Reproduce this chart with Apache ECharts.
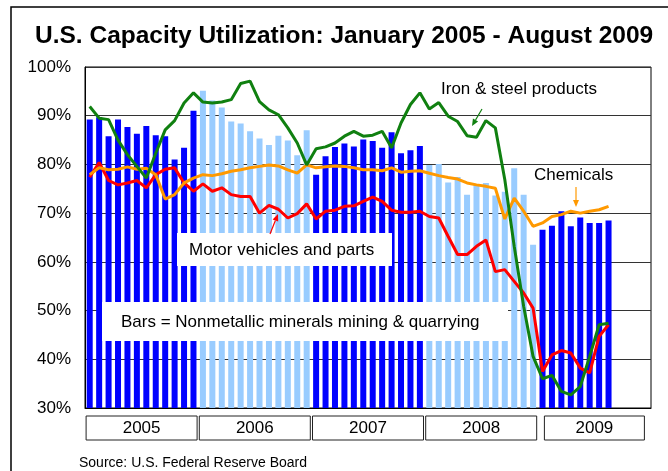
<!DOCTYPE html>
<html>
<head>
<meta charset="utf-8">
<script src="https://cdn.jsdelivr.net/npm/echarts@6/dist/echarts.min.js"></script>
<style>
  html, body { margin: 0; padding: 0; background: #fff; }
  #chart { width: 668px; height: 471px; }
</style>
</head>
<body>
<div id="chart"></div>
<script>
// Years shown on the time axis and month names used to build the 60 monthly slots
const years = ['2005', '2006', '2007', '2008', '2009'];
const monthNames = ['Jan', 'Feb', 'Mar', 'Apr', 'May', 'Jun', 'Jul', 'Aug', 'Sep', 'Oct', 'Nov', 'Dec'];

// Y-axis tick range (percent)
const yTicks = { min: 30, max: 100, step: 10 };

// Capacity utilization, % — Jan 2005 through Aug 2009
const nonmetallicMinerals = [
  89.2, 89.7, 85.8, 89.2, 87.7, 86.3, 87.9, 86.0, 85.8, 81.0, 83.4, 91.0,
  95.1, 93.1, 91.7, 88.8, 88.4, 86.8, 85.3, 84.0, 85.9, 84.9, 81.9, 87.0,
  77.9, 81.7, 83.6, 84.3, 83.7, 85.1, 84.8, 83.4, 86.6, 82.3, 82.9, 83.8,
  79.9, 80.1, 76.3, 77.4, 73.8, 76.0, 76.2, 73.6, 74.4, 79.2, 73.8, 63.5,
  66.6, 67.4, 70.4, 67.3, 69.1, 68.0, 68.0, 68.5
];
const ironSteel = [
  91.9, 89.5, 89.2, 85.0, 82.0, 79.6, 77.2, 82.3, 87.1, 89.0, 92.6, 94.7,
  92.8, 92.6, 92.8, 93.3, 96.6, 97.1, 92.9, 91.2, 90.2, 87.5, 84.4, 79.9,
  83.2, 83.6, 84.4, 85.8, 86.8, 85.8, 86.0, 86.8, 83.4, 88.5, 92.3, 94.7,
  91.4, 92.7, 89.9, 88.8, 85.9, 85.6, 89.0, 87.5, 76.9, 63.2, 50.9, 40.6,
  36.0, 36.7, 33.4, 32.7, 34.4, 40.6, 47.1, 47.4
];
const motorVehicles = [
  77.4, 80.4, 76.7, 75.8, 76.2, 76.7, 75.2, 77.9, 79.0, 79.3, 76.2, 74.5,
  76.0, 74.5, 75.2, 73.8, 73.4, 73.4, 70.0, 71.6, 70.8, 69.0, 69.9, 71.9,
  68.8, 70.4, 70.6, 71.4, 71.5, 72.4, 73.3, 72.4, 70.6, 70.2, 70.2, 70.4,
  69.3, 69.0, 65.2, 61.5, 61.5, 63.2, 64.5, 58.0, 58.4, 56.0, 53.6, 50.5,
  37.5, 40.9, 41.8, 41.3, 38.2, 37.2, 44.7, 47.1
];
const chemicals = [
  77.9, 79.3, 78.9, 79.0, 79.5, 79.0, 79.2, 77.9, 72.9, 73.8, 76.2, 77.2,
  77.9, 77.7, 78.1, 78.6, 78.9, 79.3, 79.6, 79.9, 79.7, 78.9, 78.2, 79.9,
  79.3, 79.5, 79.7, 79.6, 79.3, 78.9, 78.9, 78.7, 79.3, 78.4, 78.6, 78.7,
  78.2, 77.7, 77.3, 77.0, 76.2, 75.8, 75.5, 75.1, 68.8, 73.1, 70.4, 67.3,
  68.0, 69.3, 69.7, 70.4, 70.0, 70.4, 70.7, 71.4
];

const months = [];
years.forEach(y => monthNames.forEach(m => months.push(m + ' ' + y)));

const FONT = "'Liberation Sans', Arial, Helvetica, sans-serif";
const chart = echarts.init(document.getElementById('chart'), null, { renderer: 'canvas' });

// Thin annotation arrow: shaft plus a filled head at the (x2, y2) end
function arrow(x1, y1, x2, y2, color) {
  const dx = x2 - x1, dy = y2 - y1, len = Math.hypot(dx, dy);
  const ux = dx / len, uy = dy / len, hl = 7, hw = 3;
  const bx = x2 - ux * hl, by = y2 - uy * hl;
  return [
    { type: 'line', z: 120, shape: { x1: x1, y1: y1, x2: bx, y2: by },
      style: { stroke: color, lineWidth: 1.2 } },
    { type: 'polygon', z: 120,
      shape: { points: [[x2, y2], [bx - uy * hw, by + ux * hw], [bx + uy * hw, by - ux * hw]] },
      style: { fill: color } }
  ];
}

function label(text, x, y, size) {
  return {
    type: 'text', z: 110, x: x, y: y,
    style: { text: text, font: (size || 17) + 'px ' + FONT, fill: '#000', textVerticalAlign: 'middle' }
  };
}

const option = {
  animation: false,
  backgroundColor: '#fff',
  title: {
    text: 'U.S. Capacity Utilization: January 2005 - August 2009',
    left: 30, top: 19,
    textStyle: { fontFamily: FONT, fontSize: 24.5, fontWeight: 'bold', color: '#000' }
  },
  grid: {
    left: 85, right: 17, top: 67, bottom: 63,
    show: true, borderColor: '#000', borderWidth: 1, backgroundColor: 'transparent'
  },
  xAxis: [
    {
      type: 'category', data: months, boundaryGap: true,
      axisLine: { show: true, lineStyle: { color: '#000' } },
      axisTick: { show: false }, axisLabel: { show: false }, splitLine: { show: false }
    },
    {
      type: 'category', data: years, position: 'bottom', boundaryGap: true,
      axisLine: { show: false }, axisTick: { show: false }, splitLine: { show: false },
      axisLabel: {
        margin: 8,
        formatter: (v, i) => (i === years.length - 1 ? '{s|' + v + '}' : '{w|' + v + '}'),
        rich: {
          w: { width: 111, height: 24, lineHeight: 24, align: 'center', fontSize: 17,
               fontFamily: FONT, color: '#000', borderColor: '#222', borderWidth: 1 },
          s: { width: 100, height: 24, lineHeight: 24, align: 'center', fontSize: 17,
               fontFamily: FONT, color: '#000', borderColor: '#222', borderWidth: 1 }
        }
      }
    }
  ],
  yAxis: {
    type: 'value', min: yTicks.min, max: yTicks.max, interval: yTicks.step,
    axisLine: { show: true, lineStyle: { color: '#000' } },
    axisTick: { show: false },
    axisLabel: { formatter: '{value}%', fontSize: 17, fontFamily: FONT, color: '#000', margin: 14 },
    splitLine: { show: true, lineStyle: { color: '#333', width: 1 } }
  },
  series: [
    {
      name: 'Nonmetallic minerals mining & quarrying', type: 'bar',
      data: nonmetallicMinerals, barWidth: 6,
      itemStyle: {
        color: p => (Math.floor(p.dataIndex / 12) % 2 === 0 ? '#0000FF' : '#99CCFF')
      }
    },
    {
      name: 'Motor vehicles and parts', type: 'line', data: motorVehicles,
      symbol: 'none', lineStyle: { color: '#FF0000', width: 3 }
    },
    {
      name: 'Chemicals', type: 'line', data: chemicals,
      symbol: 'none', lineStyle: { color: '#FF9900', width: 3 }
    },
    {
      name: 'Iron & steel products', type: 'line', data: ironSteel,
      symbol: 'none', lineStyle: { color: '#108010', width: 3 }
    }
  ],
  graphic: [
    // page frame
    { type: 'rect', z: 1, shape: { x: 11, y: 7, width: 720, height: 520 },
      style: { fill: 'none', stroke: '#000', lineWidth: 1.5 } },
    // white label panels over the bars
    { type: 'rect', z: 100, shape: { x: 177, y: 233, width: 215, height: 33 },
      style: { fill: '#fff' } },
    { type: 'rect', z: 100, shape: { x: 102, y: 302, width: 406, height: 39 },
      style: { fill: '#fff' } },
    label('Motor vehicles and parts', 189, 250),
    label('Bars = Nonmetallic minerals mining & quarrying', 121, 322),
    label('Iron & steel products', 441, 89),
    label('Chemicals', 534, 175),
    label('Source: U.S. Federal Reserve Board', 79, 463, 14),
    ...arrow(482, 109, 472, 126, '#108010'),
    ...arrow(576, 187, 576, 207, '#FF9900'),
    ...arrow(270, 234, 278, 214, '#FF0000')
  ]
};

chart.setOption(option);
</script>
</body>
</html>
